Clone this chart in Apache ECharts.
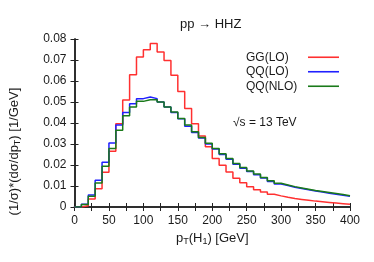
<!DOCTYPE html>
<html>
<head>
<meta charset="utf-8">
<script src="https://cdn.jsdelivr.net/npm/echarts@6/dist/echarts.min.js"></script>
<style>
html,body{margin:0;padding:0;background:#fff;}
#c{width:374px;height:262px;}
</style>
</head>
<body>
<div id="c"></div>
<script>
// Bin edges (GeV), 10 GeV bins from 0 to 400
const binEdges = [0,10,20,30,40,50,60,70,80,90,100,110,120,130,140,150,160,170,180,190,200,
  210,220,230,240,250,260,270,280,290,300,310,320,330,340,350,360,370,380,390,400];
// Bin contents (one per bin)
const ggLO = [0,0.0006,0.0038,0.0087,0.0165,0.0265,0.0397,0.0510,0.0630,0.0714,
  0.0749,0.0778,0.0738,0.0698,0.0627,0.0550,0.0469,0.0397,0.0338,0.0287,
  0.0231,0.0199,0.0167,0.0137,0.0116,0.0097,0.0082,0.0071,0.0061,0.0053,
  0.0046,0.0040,0.0036,0.0032,0.0028,0.0025,0.0022,0.0019,0.0016,0.0013];
const qqLO = [0,0.0013,0.0057,0.0127,0.0213,0.0305,0.0390,0.0450,0.0492,0.0516,
  0.0524,0.0516,0.0500,0.0476,0.0450,0.0420,0.0385,0.0355,0.0328,0.0300,
  0.0276,0.0250,0.0227,0.0204,0.0185,0.0169,0.0154,0.0138,0.0122,0.0110,
  0.0102,0.0094,0.0088,0.0082,0.0076,0.0071,0.0066,0.0061,0.0056,0.0051];
const qqNLO = [0,0.0012,0.0051,0.0114,0.0194,0.0278,0.0365,0.0435,0.0476,0.0503,
  0.0511,0.0511,0.0500,0.0476,0.0452,0.0422,0.0390,0.0358,0.0331,0.0303,
  0.0279,0.0253,0.0231,0.0207,0.0188,0.0172,0.0157,0.0141,0.0125,0.0113,
  0.0105,0.0097,0.0091,0.0085,0.0079,0.0074,0.0069,0.0064,0.0059,0.0054];
const seriesNames = ['GG(LO)','QQ(LO)','QQ(NLO)'];
const seriesColors = ['#ff3030','#2020ff','#1a7a1a'];

function histData(vals){
  const d = vals.map((v,i)=>[binEdges[i], v]);
  d.push([binEdges[binEdges.length-1], vals[vals.length-1]]);
  return d;
}

const FONT = 'Liberation Sans, Arial, sans-serif';
const TXT = '#1a1a1a';
const axisLine = {show:true, lineStyle:{color:'#222', width:1.5}};

const chart = echarts.init(document.getElementById('c'), null, {renderer:'canvas'});
chart.setOption({
  animation:false,
  textStyle:{fontFamily:FONT},
  title:{text:'pp \u2192 HHZ', left:175, top:13, textStyle:{fontSize:13, fontWeight:'normal', color:TXT, fontFamily:FONT}},
  grid:{left:71, right:24, top:39, bottom:55},
  legend:{
    left:241, top:45, orient:'vertical', align:'right',
    icon:'rect', itemWidth:31, itemHeight:1.6, itemGap:0,
    data:seriesNames,
    formatter:'{t|{name}}',
    textStyle:{fontSize:12, color:TXT, fontFamily:FONT, lineHeight:14.5,
      rich:{t:{width:57, align:'left', fontSize:12, lineHeight:14.5, color:TXT, fontFamily:FONT}}}
  },
  xAxis:[{
    type:'value', min:0, max:400, interval:50, position:'bottom',
    name:'{a|p}{s|T}{a|(H}{s|1}{a|) [GeV]}', nameLocation:'middle', nameGap:20,
    nameTextStyle:{rich:{a:{fontSize:13, color:TXT, fontFamily:FONT}, s:{fontSize:9, color:TXT, fontFamily:FONT, padding:[7,0,0,0]}}},
    axisLine:axisLine,
    axisTick:{show:true, inside:true, length:4, lineStyle:{color:'#222'}},
    minorTick:{show:true, splitNumber:2, length:4, lineStyle:{color:'#222'}},
    axisLabel:{fontSize:12, color:TXT, margin:8, fontFamily:FONT},
    splitLine:{show:false}
  },{
    type:'value', min:0, max:400, interval:50, position:'top',
    axisLine:axisLine,
    axisTick:{show:true, inside:true, length:4, lineStyle:{color:'#222'}},
    minorTick:{show:true, splitNumber:2, length:4, lineStyle:{color:'#222'}},
    axisLabel:{show:false}, splitLine:{show:false}
  }],
  yAxis:[{
    type:'value', min:0, max:0.08, interval:0.01, position:'left',
    name:'(1/\u03c3)*(d\u03c3/dp{s|T}) [1/GeV]', nameLocation:'middle', nameGap:52,
    nameTextStyle:{fontSize:13, color:TXT, fontFamily:FONT, padding:[0,57,0,0],
      rich:{s:{fontSize:9, color:TXT, fontFamily:FONT, padding:[7,0,0,0]}}},
    axisLine:axisLine,
    axisTick:{show:true, inside:true, length:4, lineStyle:{color:'#222'}},
    axisLabel:{fontSize:12, color:TXT, margin:8, fontFamily:FONT},
    splitLine:{show:false}
  },{
    type:'value', min:0, max:0.08, interval:0.01, position:'right',
    axisLine:axisLine,
    axisTick:{show:true, inside:true, length:4, lineStyle:{color:'#222'}},
    axisLabel:{show:false}, splitLine:{show:false}
  }],
  graphic:[{
    type:'text', left:233, top:117,
    style:{text:'\u221As = 13 TeV', fontSize:12, fill:TXT, fontFamily:FONT}
  }],
  series:[ggLO, qqLO, qqNLO].map((vals,i)=>({
    name:seriesNames[i], type:'line', step:'end', showSymbol:false, symbol:'none',
    xAxisIndex:0, yAxisIndex:0,
    data:histData(vals),
    color:seriesColors[i],
    lineStyle:{color:seriesColors[i], width:1.5}
  }))
});
</script>
</body>
</html>
